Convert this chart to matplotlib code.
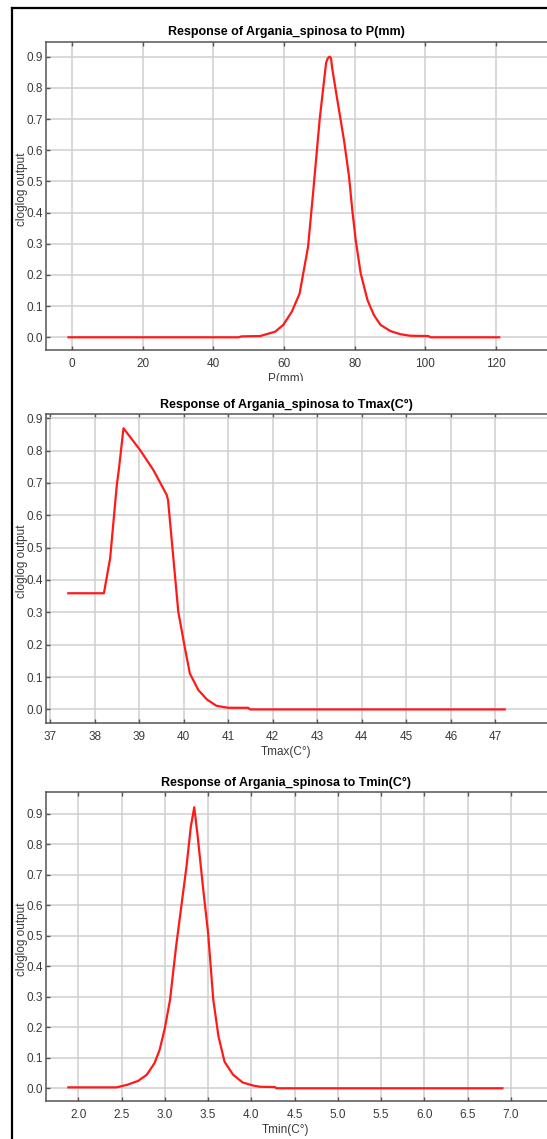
import matplotlib
matplotlib.use("Agg")
import matplotlib.pyplot as plt
from matplotlib.patches import Rectangle
from matplotlib.lines import Line2D

plt.rcParams['font.family'] = ['Liberation Sans', 'DejaVu Sans']

# ---------------- data ----------------
p_x = [-1.0, 47.1, 48.0, 53.2, 57.5, 59.8, 62.2, 64.4, 66.8, 68.2, 70.1, 71.9, 72.4, 72.9,
       73.3, 73.6, 75.1, 77.0, 78.4, 79.3, 80.3, 81.7, 83.6, 85.4, 87.3, 90.1, 92.9, 95.7,
       100.9, 101.4, 120.9]
p_y = [0.0, 0.0, 0.003, 0.004, 0.018, 0.04, 0.082, 0.14, 0.29, 0.46, 0.70, 0.88, 0.895, 0.90,
       0.895, 0.865, 0.76, 0.63, 0.515, 0.41, 0.31, 0.205, 0.12, 0.072, 0.04, 0.02, 0.01, 0.005,
       0.004, 0.0, 0.0]

tmax_x = [37.41, 38.21, 38.35, 38.50, 38.54, 38.65, 39.02, 39.32, 39.62, 39.65, 39.77,
          39.88, 40.03, 40.14, 40.33, 40.52, 40.74, 41.0, 41.45, 41.49, 47.21]
tmax_y = [0.359, 0.359, 0.467, 0.694, 0.735, 0.869, 0.802, 0.74, 0.663, 0.647, 0.467,
          0.302, 0.189, 0.111, 0.06, 0.031, 0.011, 0.005, 0.005, 0.0, 0.0]

tmin_x = [1.885, 2.44, 2.56, 2.69, 2.79, 2.88, 2.94, 3.00, 3.06, 3.13, 3.19, 3.25, 3.30,
          3.34, 3.38, 3.44, 3.50, 3.56, 3.62, 3.69, 3.79, 3.90, 4.02, 4.10, 4.27, 4.29, 6.90]
tmin_y = [0.003, 0.003, 0.011, 0.024, 0.044, 0.082, 0.126, 0.197, 0.29, 0.465, 0.596,
          0.727, 0.858, 0.922, 0.826, 0.662, 0.509, 0.29, 0.17, 0.087, 0.044, 0.019,
          0.009, 0.005, 0.004, 0.0, 0.0]

titles = ["Response of Argania_spinosa to P(mm)",
          "Response of Argania_spinosa to Tmax(C°)",
          "Response of Argania_spinosa to Tmin(C°)"]
xlabels = ["P(mm)", "Tmax(C°)", "Tmin(C°)"]
ylabel = "cloglog output"

p_ticks = [0, 20, 40, 60, 80, 100, 120]
tmax_ticks = [37, 38, 39, 40, 41, 42, 43, 44, 45, 46, 47]
tmin_ticks = [2.0, 2.5, 3.0, 3.5, 4.0, 4.5, 5.0, 5.5, 6.0, 6.5, 7.0]
y_ticks = [0.0, 0.1, 0.2, 0.3, 0.4, 0.5, 0.6, 0.7, 0.8, 0.9]

# ---------------- figure ----------------
W, H = 547, 1139
fig = plt.figure(figsize=(W / 100, H / 100), dpi=100)
fig.patch.set_facecolor('white')

def px_axes(left, top, right, bottom):
    return fig.add_axes([left / W, 1 - bottom / H, (right - left) / W, (bottom - top) / H])

panels = [
    dict(box=(46, 42, 560, 350), xlim=(-7.36, 138.1), ylim=(-0.0407, 0.947),
         x=p_x, y=p_y, ticks=p_ticks, fmt="{:d}"),
    dict(box=(46, 414, 560, 723), xlim=(36.91, 48.45), ylim=(-0.042, 0.913),
         x=tmax_x, y=tmax_y, ticks=tmax_ticks, fmt="{:d}"),
    dict(box=(46, 792, 560, 1101), xlim=(1.627, 7.566), ylim=(-0.0417, 0.972),
         x=tmin_x, y=tmin_y, ticks=tmin_ticks, fmt="{:.1f}"),
]

tick_col = '#3a3a3a'
for i, pnl in enumerate(panels):
    l, t, r, b = pnl['box']
    ax = px_axes(l, t, r, b)
    ax.plot(pnl['x'], pnl['y'], color='#ff1a1a', lw=1.6, solid_joinstyle='round')
    ax.set_xlim(*pnl['xlim'])
    ax.set_ylim(*pnl['ylim'])
    ax.set_xticks(pnl['ticks'])
    ax.set_xticklabels([pnl['fmt'].format(v) for v in pnl['ticks']])
    ax.set_yticks(y_ticks)
    ax.set_yticklabels(["{:.1f}".format(v) for v in y_ticks])
    ax.grid(True, color='#d0d0d0', lw=1.1)
    ax.set_axisbelow(True)
    for s in ax.spines.values():
        s.set_color('#555555')
        s.set_linewidth(1.1)
    ax.tick_params(axis='both', direction='in', length=3, width=1.0, color='#555555',
                   labelsize=8.5, labelcolor=tick_col, top=True, right=True)
    ax.tick_params(axis='x', pad=6)
    ax.tick_params(axis='y', pad=2.5)
    hpx = b - t
    wpx = r - l
    ax.set_title(titles[i], fontsize=9, fontweight='bold', color='black',
                 x=(286 - l) / wpx, y=1 + 9.5 / hpx, va='center', pad=0)
    ax.set_xlabel(xlabels[i], fontsize=8.5, color=tick_col)
    ax.xaxis.set_label_coords((286 - l) / wpx, -29 / hpx)
    ax.xaxis.label.set_va('center')
    ax.set_ylabel(ylabel, fontsize=8.5, color=tick_col)
    ax.yaxis.set_label_coords((22 - l) / wpx, 0.523)
    ax.yaxis.label.set_va('center')

# white band hiding the lower part of the first x label (cropped screenshot)
fig.patches.append(Rectangle((0, 1 - 392 / H), 1, 11 / H, transform=fig.transFigure,
                             facecolor='white', edgecolor='none', zorder=5))

# black screenshot frame lines
fig.lines.append(Line2D([12 / W, 12 / W], [0, 1 - 8 / H], transform=fig.transFigure,
                        color='black', lw=1.6, zorder=6))
fig.lines.append(Line2D([12 / W, 1], [1 - 8.3 / H, 1 - 8.3 / H], transform=fig.transFigure,
                        color='black', lw=1.6, zorder=6))

fig.savefig("out.png", dpi=100, facecolor='white')
